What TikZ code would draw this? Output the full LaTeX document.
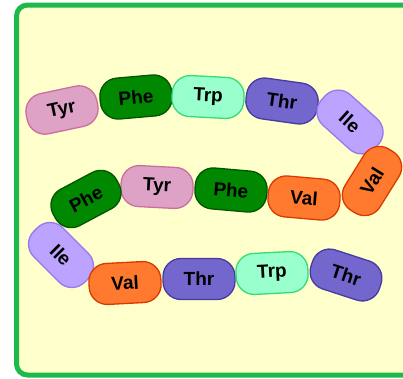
\documentclass[tikz,border=0pt]{standalone}
\usepackage{fontspec}
\setmainfont{Liberation Sans}
\definecolor{frameg}{RGB}{30,185,75}
\definecolor{bgy}{RGB}{255,255,204}
\definecolor{tyrf}{RGB}{221,162,198}\definecolor{tyrd}{RGB}{204,110,160}
\definecolor{phef}{RGB}{0,136,0}\definecolor{phed}{RGB}{0,85,0}
\definecolor{trpf}{RGB}{153,255,204}\definecolor{trpd}{RGB}{50,220,120}
\definecolor{thrf}{RGB}{115,102,204}\definecolor{thrd}{RGB}{70,60,160}
\definecolor{ilef}{RGB}{187,163,255}\definecolor{iled}{RGB}{150,120,240}
\definecolor{valf}{RGB}{255,122,46}\definecolor{vald}{RGB}{217,58,0}
\tikzset{
  pill/.style={rounded corners=18pt, minimum width=72pt, minimum height=41pt, inner sep=0pt,
    line width=1.3pt, font=\fontsize{19}{19}\selectfont\bfseries, text=black},
  tyr/.style={pill, fill=tyrf, draw=tyrd},
  phe/.style={pill, fill=phef, draw=phed},
  trp/.style={pill, fill=trpf, draw=trpd},
  thr/.style={pill, fill=thrf, draw=thrd},
  ile/.style={pill, fill=ilef, draw=iled},
  val/.style={pill, fill=valf, draw=vald},
}
\begin{document}
\begin{tikzpicture}[x=1pt,y=-1pt]
\useasboundingbox (0,0) rectangle (403,378);
\clip (0,0) rectangle (403,378);
\draw[frameg, line width=5pt, fill=bgy, rounded corners=11pt] (16.5,5) rectangle (430,375);
% top row
\node[tyr, rotate=12]  (a1) at (62,110) {Tyr};
\node[phe, rotate=5]   (a2) at (136,97) {Phe};
\node[trp, rotate=-3]  (a3) at (208,97) {Trp};
\node[thr, rotate=-8]  (a4) at (282,101) {Thr};
\node[ile, rotate=-42] (a5) at (350,122) {Ile};
\node[val, rotate=58]  (a6) at (372,181) {Val};
% middle row
\node[val, rotate=-5]  (b1) at (304,198) {Val};
\node[phe, rotate=-5]  (b2) at (231,190) {Phe};
\node[tyr, rotate=-3]  (b3) at (157,187) {Tyr};
\node[phe, rotate=28]  (b4) at (86,199) {Phe};
% bottom row
\node[ile, rotate=-45] (c1) at (61,255) {Ile};
\node[val, rotate=3]   (c2) at (125,283) {Val};
\node[thr, rotate=0]   (c3) at (199,279) {Thr};
\node[trp, rotate=3]   (c4) at (272,273) {Trp};
\node[thr, rotate=-18] (c5) at (346,275) {Thr};
\end{tikzpicture}
\end{document}
